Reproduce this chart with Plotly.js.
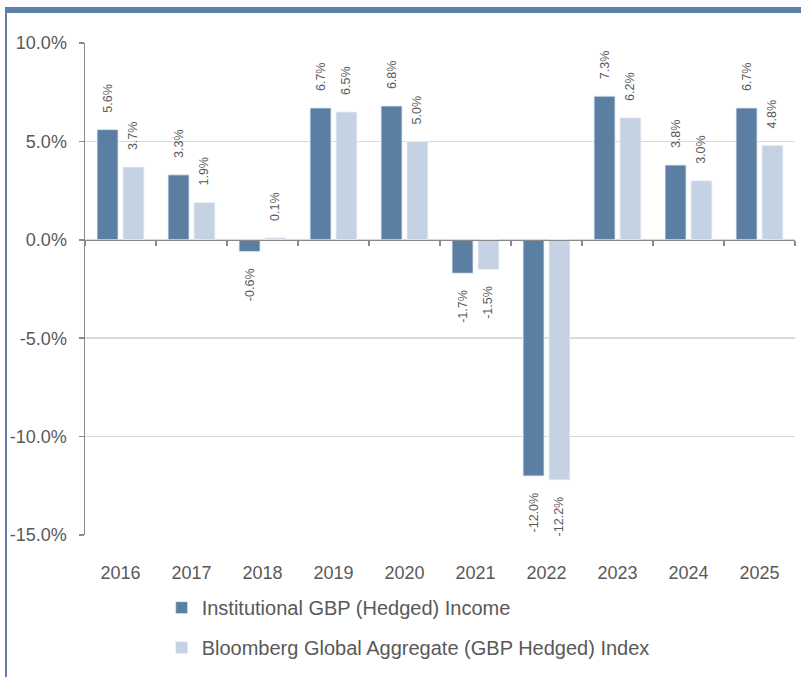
<!DOCTYPE html>
<html>
<head>
<meta charset="utf-8">
<script src="https://cdn.plot.ly/plotly-3.0.1.min.js"></script>
<style>
  html, body { margin: 0; padding: 0; background: #fff; }
  #frame { position: absolute; left: 5px; top: 7px; width: 796px; height: 670px;
           border-top: 6px solid #5B7FA6; border-left: 2px solid #5B7FA6; box-sizing: border-box; }
  #chart { position: absolute; left: 0; top: 0; width: 801px; height: 677px; }
</style>
</head>
<body>
<div id="frame"></div>
<div id="chart"></div>
<script>
const categories = ['2016','2017','2018','2019','2020','2021','2022','2023','2024','2025'];
const incomeName = 'Institutional GBP (Hedged) Income';
const indexName = 'Bloomberg Global Aggregate (GBP Hedged) Index';
const incomeValues = [5.6, 3.3, -0.6, 6.7, 6.8, -1.7, -12.0, 7.3, 3.8, 6.7];
const indexValues = [3.7, 1.9, 0.1, 6.5, 5.0, -1.5, -12.2, 6.2, 3.0, 4.8];
const yTickVals = [-15, -10, -5, 0, 5, 10];
const yRange = [-15, 10];

const pad = '\u00a0\u00a0\u00a0\u00a0';
function labels(vals) {
  return vals.map(v => v >= 0 ? pad + v.toFixed(1) + '%' : v.toFixed(1) + '%' + pad);
}

const grey = '#595959';
const axisGrey = '#898989';
const labelFont = { family: 'Liberation Sans, Arial, sans-serif', size: 12.5, color: grey };

const traces = [
  {
    type: 'bar', name: incomeName, x: categories, y: incomeValues,
    marker: { color: '#5B7FA3', line: { color: '#E8EEF5', width: 0.8 } },
    text: labels(incomeValues), textposition: 'outside', textangle: -90,
    constraintext: 'none', cliponaxis: false, textfont: labelFont,
    legendgroup: 'a', hoverinfo: 'x+y'
  },
  {
    type: 'bar', name: indexName, x: categories, y: indexValues,
    marker: { color: '#C5D2E3', line: { color: '#EEF2F8', width: 0.8 } },
    text: labels(indexValues), textposition: 'outside', textangle: -90,
    constraintext: 'none', cliponaxis: false, textfont: labelFont,
    legendgroup: 'b', hoverinfo: 'x+y'
  },
  {
    type: 'scatter', mode: 'markers', x: [0], y: [0], xaxis: 'x2', yaxis: 'y',
    marker: { opacity: 0 }, showlegend: false, hoverinfo: 'skip'
  }
];

const layout = {
  width: 801, height: 677,
  margin: { l: 85, r: 6, t: 43, b: 142 },
  paper_bgcolor: 'rgba(0,0,0,0)',
  plot_bgcolor: 'rgba(0,0,0,0)',
  font: { family: 'Liberation Sans, Arial, sans-serif', size: 18, color: grey },
  barmode: 'group', bargap: 0.27, bargroupgap: 0.19,
  showlegend: true,
  legend: {
    orientation: 'v', x: 0.108, xanchor: 'left', y: -0.108, yanchor: 'top',
    font: { size: 20, color: grey }, traceorder: 'grouped', tracegroupgap: 11,
    bgcolor: 'rgba(0,0,0,0)'
  },
  xaxis: {
    type: 'category', showline: false, showgrid: false, zeroline: false,
    ticks: 'outside', ticklen: 21, tickcolor: 'rgba(0,0,0,0)',
    tickfont: { size: 18, color: grey }
  },
  xaxis2: {
    overlaying: 'x', anchor: 'free', side: 'bottom',
    position: (0 - yRange[0]) / (yRange[1] - yRange[0]),
    range: [0, categories.length],
    tickvals: categories.map((c, i) => i).concat([categories.length]),
    showticklabels: false, showgrid: false, zeroline: false,
    showline: true, linecolor: axisGrey, linewidth: 1.5,
    ticks: 'outside', ticklen: 5, tickcolor: axisGrey, tickwidth: 1.5
  },
  yaxis: {
    range: yRange, tickvals: yTickVals,
    ticktext: yTickVals.map(v => v.toFixed(1) + '%'),
    showline: true, linecolor: axisGrey, linewidth: 1.5,
    ticks: 'outside', ticklen: 5, tickcolor: axisGrey, tickwidth: 1.5,
    ticklabelstandoff: 8,
    showgrid: true, gridcolor: '#D9D9D9', gridwidth: 1.5, zeroline: false,
    tickfont: { size: 18, color: grey }
  }
};

Plotly.newPlot('chart', traces, layout, { displayModeBar: false, staticPlot: true });
</script>
</body>
</html>
